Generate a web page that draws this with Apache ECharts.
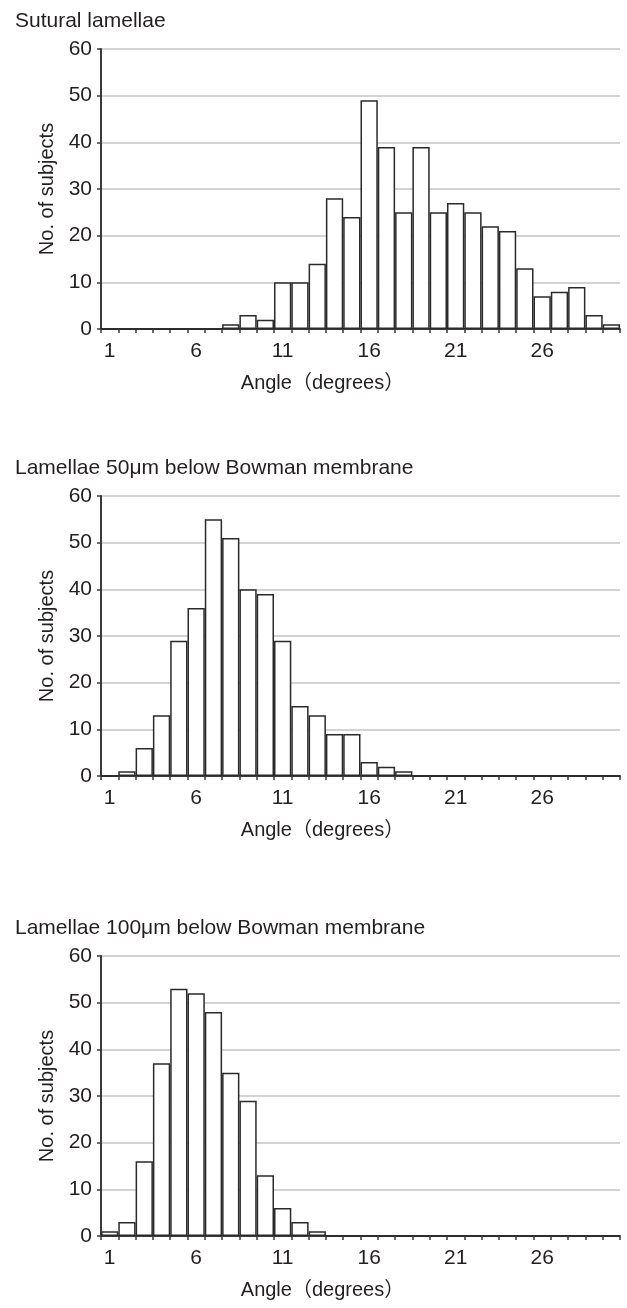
<!DOCTYPE html>
<html>
<head>
<meta charset="utf-8">
<title>Lamellae angle histograms</title>
<script src="https://cdn.jsdelivr.net/npm/echarts@6/dist/echarts.min.js"></script>
<style>
	html, body { margin: 0; padding: 0; background: #fff; }
	#chart { width: 627px; height: 1308px; }
</style>
</head>
<body>
<div id="chart"></div>
<script>
var angles = ['1', '2', '3', '4', '5', '6', '7', '8', '9', '10',
	'11', '12', '13', '14', '15', '16', '17', '18', '19', '20',
	'21', '22', '23', '24', '25', '26', '27', '28', '29', '30'];

var sutural = [0, 0, 0, 0, 0, 0, 0, 1, 3, 2, 10, 10, 14, 28, 24,
	49, 39, 25, 39, 25, 27, 25, 22, 21, 13, 7, 8, 9, 3, 1];
var below50 = [0, 1, 6, 13, 29, 36, 55, 51, 40, 39, 29, 15, 13, 9, 9,
	3, 2, 1, 0, 0, 0, 0, 0, 0, 0, 0, 0, 0, 0, 0];
var below100 = [1, 3, 16, 37, 53, 52, 48, 35, 29, 13, 6, 3, 1, 0, 0,
	0, 0, 0, 0, 0, 0, 0, 0, 0, 0, 0, 0, 0, 0, 0];

var panelTitles = ['Sutural lamellae', 'Lamellae 50\u03bcm below Bowman membrane', 'Lamellae 100\u03bcm below Bowman membrane'];
var yTicks = [0, 10, 20, 30, 40, 50, 60];
var xName = 'Angle\uff08degrees\uff09';
var yName = 'No. of subjects';

var font = '"Liberation Sans", Arial, "Noto Sans CJK JP", sans-serif';
var ink = '#231f20';
var gridTops = [49, 496, 956];
var titleTops = [6, 453, 913];

var chart = echarts.init(document.getElementById('chart'));

var grids = [], xAxes = [], yAxes = [], titles = [], series = [];
var allData = [sutural, below50, below100];

// one grid per panel, all stacked in the same chart
for (var i = 0; i < 3; i++) {
	titles.push({
		text: panelTitles[i],
		left: 10,
		top: titleTops[i],
		textStyle: { color: ink, fontSize: 21, fontWeight: 'normal', fontFamily: font }
	});
	grids.push({ left: 101, right: 7, top: gridTops[i], height: 280 });
	xAxes.push({
		type: 'category',
		gridIndex: i,
		data: angles,
		boundaryGap: true,
		name: xName,
		nameLocation: 'middle',
		nameGap: 44,
		nameTextStyle: { color: ink, fontSize: 20, fontFamily: font, padding: [0, 76, 0, 0] },
		axisLine: { lineStyle: { color: '#3a3a3a', width: 2 } },
		axisTick: { show: true, interval: 0, length: 4, lineStyle: { color: '#3a3a3a', width: 1.5 } },
		axisLabel: { interval: 4, margin: 12, color: ink, fontSize: 21, fontFamily: font },
		splitLine: { show: false }
	});
	yAxes.push({
		type: 'value',
		gridIndex: i,
		min: yTicks[0],
		max: yTicks[yTicks.length - 1],
		interval: 10,
		name: yName,
		nameLocation: 'middle',
		nameGap: 35,
		nameTextStyle: { color: ink, fontSize: 20, fontFamily: font },
		axisLine: { show: true, lineStyle: { color: '#3a3a3a', width: 2 } },
		axisTick: { show: true, length: 4, lineStyle: { color: '#3a3a3a', width: 1.5 } },
		axisLabel: { margin: 9, color: ink, fontSize: 21, fontFamily: font },
		splitLine: { show: true, lineStyle: { color: '#c4c4c4', width: 1.5 } }
	});
	series.push({
		type: 'bar',
		xAxisIndex: i,
		yAxisIndex: i,
		data: allData[i],
		barCategoryGap: '0%',
		itemStyle: { color: '#fff', borderColor: '#2a2a2a', borderWidth: 1.5 },
		animation: false
	});
}

var option = {
	backgroundColor: '#fff',
	animation: false,
	title: titles,
	grid: grids,
	xAxis: xAxes,
	yAxis: yAxes,
	series: series
};

chart.setOption(option);
</script>
</body>
</html>
